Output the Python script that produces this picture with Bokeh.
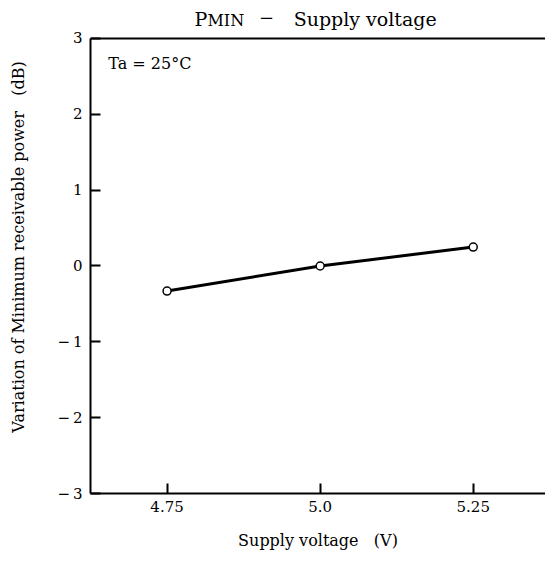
from bokeh.plotting import figure
from bokeh.models import Label, Span, FixedTicker, Range1d
from bokeh.embed import file_html
from bokeh.resources import INLINE

# data
supply_voltage = [4.75, 5.0, 5.25]
pmin_variation = [-0.33, 0.0, 0.25]
x_ticks = [4.75, 5.0, 5.25]
x_tick_labels = ["4.75", "5.0", "5.25"]
y_ticks = [-3, -2, -1, 0, 1, 2, 3]
y_tick_labels = ["\u2212\u20093", "\u2212\u20092", "\u2212\u20091", "0", "1", "2", "3"]

FONT = "DejaVu Serif"
X0, X1 = 4.625, 5.368
Y0, Y1 = -3, 3
Y_TOP = 3.501  # extra room above the frame for the title

p = figure(width=545, height=561, output_backend="svg", toolbar_location=None,
           x_range=Range1d(X0, X1), y_range=Range1d(Y0, Y_TOP),
           min_border_left=90, min_border_top=0, min_border_bottom=68, min_border_right=0)
p.outline_line_color = None
p.grid.visible = False
p.background_fill_color = "white"
p.border_fill_color = "white"

p.xaxis.ticker = FixedTicker(ticks=x_ticks)
p.xaxis.major_label_overrides = {t: l for t, l in zip(x_ticks, x_tick_labels)}
p.yaxis.ticker = FixedTicker(ticks=y_ticks)
p.yaxis.major_label_overrides = {t: l for t, l in zip(y_ticks, y_tick_labels)}
p.yaxis.bounds = (Y0, Y1)

for ax in (p.xaxis, p.yaxis):
    ax.axis_line_width = 2
    ax.axis_line_color = "black"
    ax.major_tick_in = 10
    ax.major_tick_out = 0
    ax.major_tick_line_width = 2
    ax.minor_tick_line_color = None
    ax.major_label_text_font = FONT
    ax.major_label_text_font_size = "15px"
    ax.major_label_text_color = "black"
    ax.axis_label_text_font = FONT
    ax.axis_label_text_font_size = "16px"
    ax.axis_label_text_font_style = "normal"
    ax.axis_label_text_color = "black"

p.xaxis.axis_label = "Supply voltage\u00a0\u00a0\u00a0(V)"
p.yaxis.axis_label = "Variation of Minimum receivable power\u00a0\u00a0\u00a0(dB)"
p.xaxis.major_label_standoff = 7
p.xaxis.axis_label_standoff = 16
p.yaxis.major_label_standoff = 8
p.yaxis.axis_label_standoff = 26

p.add_layout(Span(location=Y1, dimension="width", line_color="black", line_width=2))

p.line(supply_voltage, pmin_variation, line_color="black", line_width=3)
p.scatter(supply_voltage, pmin_variation, size=8, fill_color="white",
          line_color="black", line_width=1.5)

p.add_layout(Label(x=4.654, y=2.670, text="Ta = 25\u00b0C", text_font=FONT,
                   text_font_size="16px", text_color="black", text_baseline="alphabetic"))

# title pieces
p.add_layout(Label(x=4.795, y=3.2506, text="P", text_font=FONT, text_font_size="19px",
                   text_color="black", text_baseline="alphabetic"))
p.add_layout(Label(x=4.816, y=3.237, text="MIN", text_font=FONT, text_font_size="16px",
                   text_color="black", text_baseline="alphabetic"))
p.add_layout(Label(x=4.9126, y=3.29, text="\u2212", text_font=FONT, text_font_size="18px",
                   text_color="black", text_align="center", text_baseline="alphabetic"))
p.add_layout(Label(x=4.9567, y=3.2506, text="Supply voltage", text_font=FONT,
                   text_font_size="19px", text_color="black", text_baseline="alphabetic"))

open("out.html", "w").write(file_html(p, INLINE))
